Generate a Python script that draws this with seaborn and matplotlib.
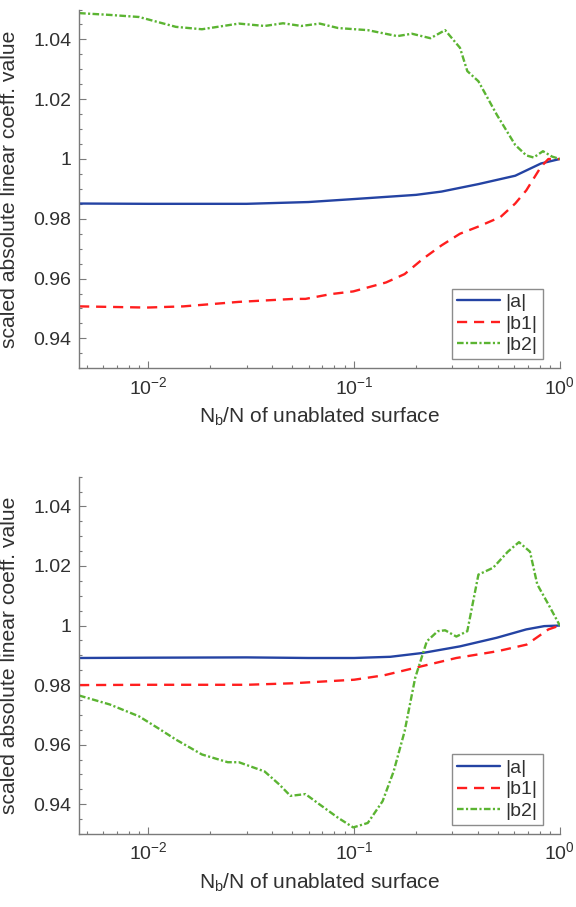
import numpy as np
import pandas as pd
import matplotlib
matplotlib.use("Agg")
import matplotlib.pyplot as plt
import seaborn as sns
from matplotlib.ticker import LogLocator, MultipleLocator, FixedLocator

# ---------------- data ----------------
# top panel
top_a_x = [0.0046, 0.01, 0.03, 0.06, 0.1, 0.2, 0.266, 0.402, 0.607, 0.81, 1.0]
top_a_y = [0.9851, 0.9850, 0.9850, 0.9856, 0.9866, 0.9880, 0.9891, 0.9916, 0.9944, 0.9985, 1.0]

top_b1_x = [0.0046, 0.0098, 0.0148, 0.0275, 0.051, 0.058, 0.077, 0.099, 0.143, 0.176,
            0.216, 0.266, 0.327, 0.402, 0.515, 0.607, 0.687, 0.81, 0.88, 1.0]
top_b1_y = [0.9507, 0.9503, 0.9507, 0.9522, 0.9532, 0.9532, 0.9548, 0.9557, 0.9587, 0.9615,
            0.9666, 0.9711, 0.9750, 0.9774, 0.9806, 0.9851, 0.9895, 0.9974, 1.0, 1.0]

top_b2_x = [0.0046, 0.00648, 0.009, 0.0136, 0.0182, 0.0275, 0.0367, 0.0451, 0.0554, 0.068,
            0.0837, 0.1165, 0.162, 0.191, 0.235, 0.277, 0.327, 0.355, 0.402, 0.494,
            0.607, 0.687, 0.746, 0.828, 0.917, 1.0]
top_b2_y = [1.0488, 1.0482, 1.0475, 1.0442, 1.0434, 1.0453, 1.0445, 1.0454, 1.0445, 1.0453,
            1.0438, 1.0431, 1.0411, 1.0419, 1.0404, 1.0431, 1.0372, 1.0294, 1.0260, 1.0148,
            1.0047, 1.0012, 1.0005, 1.0026, 1.0008, 1.0]

# bottom panel
bot_a_x = [0.0046, 0.01, 0.03, 0.06, 0.1, 0.15, 0.216, 0.327, 0.494, 0.687, 0.84, 1.0]
bot_a_y = [0.9891, 0.9892, 0.9893, 0.9891, 0.9891, 0.9895, 0.9908, 0.9930, 0.9959, 0.9987, 0.9998, 1.0]

bot_b1_x = [0.0046, 0.01, 0.03, 0.05, 0.1, 0.14, 0.198, 0.314, 0.5, 0.69, 0.88, 1.0]
bot_b1_y = [0.9800, 0.9801, 0.9801, 0.9806, 0.9818, 0.9833, 0.9858, 0.9891, 0.9914, 0.9936, 0.9987, 1.0]

bot_b2_x = [0.0046, 0.00648, 0.009, 0.0111, 0.0136, 0.0182, 0.0243, 0.0275, 0.0367, 0.0433,
            0.049, 0.058, 0.068, 0.0837, 0.099, 0.1165, 0.1375, 0.1556, 0.176, 0.198,
            0.2256, 0.255, 0.277, 0.314, 0.355, 0.402, 0.474, 0.559, 0.633, 0.716,
            0.777, 0.88, 1.0]
bot_b2_y = [0.9765, 0.9735, 0.9695, 0.9656, 0.9617, 0.9567, 0.9541, 0.9541, 0.9510, 0.9466,
            0.9428, 0.9434, 0.9399, 0.9354, 0.9322, 0.9337, 0.9410, 0.9510, 0.9645, 0.9824,
            0.9947, 0.9981, 0.9984, 0.9963, 0.9981, 1.0171, 1.0194, 1.0248, 1.0280, 1.0248,
            1.0138, 1.0071, 1.0]

labels = ["|a|", "|b1|", "|b2|"]
x_label = r"N$_\mathregular{b}$/N of unablated surface"
y_label = "scaled absolute linear coeff. value"

# ---------------- style ----------------
sns.set_style("white")
plt.rcParams["font.family"] = ["Liberation Sans", "DejaVu Sans"]
plt.rcParams["mathtext.fontset"] = "custom"
plt.rcParams["mathtext.rm"] = "Liberation Sans"
plt.rcParams["mathtext.it"] = "Liberation Sans"
plt.rcParams["mathtext.bf"] = "Liberation Sans"
plt.rcParams["axes.unicode_minus"] = False

colors = ["#2443a3", "#ff1e1e", "#5bb432"]
styles = ["-", (0, (4.3, 2.9)), (0, (2.8, 1.0, 0.9, 1.0))]

fig = plt.figure(figsize=(5.76, 9.07), dpi=100)
ax_top = fig.add_axes([0.1373, 0.594, 0.8346, 0.3955])
ax_bot = fig.add_axes([0.1373, 0.0805, 0.8346, 0.394])

panels = [
    (ax_top, [(top_a_x, top_a_y), (top_b1_x, top_b1_y), (top_b2_x, top_b2_y)]),
    (ax_bot, [(bot_a_x, bot_a_y), (bot_b1_x, bot_b1_y), (bot_b2_x, bot_b2_y)]),
]

spine_col = "#7a7a7a"
text_col = "#303030"

for ax, series in panels:
    for (xs, ys), lab, c, ls in zip(series, labels, colors, styles):
        df = pd.DataFrame({"x": xs, "y": ys})
        sns.lineplot(data=df, x="x", y="y", ax=ax, color=c, linestyle=ls,
                     linewidth=1.7, label=lab, sort=False, estimator=None)
    ax.set_xscale("log")
    ax.set_xlim(0.0046, 1.0)
    ax.set_ylim(0.93, 1.05)
    ax.yaxis.set_major_locator(FixedLocator([0.94, 0.96, 0.98, 1.0, 1.02, 1.04]))
    ax.set_yticklabels(["0.94", "0.96", "0.98", "1", "1.02", "1.04"])
    ax.yaxis.set_minor_locator(MultipleLocator(0.005))
    ax.xaxis.set_major_locator(LogLocator(base=10, numticks=10))
    ax.xaxis.set_minor_locator(LogLocator(base=10, subs=np.arange(2, 10), numticks=20))
    for s in ["top", "right"]:
        ax.spines[s].set_visible(False)
    for s in ["left", "bottom"]:
        ax.spines[s].set_color(spine_col)
        ax.spines[s].set_linewidth(1.0)
    ax.tick_params(which="both", left=True, bottom=True, right=False, top=False)
    ax.tick_params(which="major", direction="in", length=5, width=0.8,
                   color=spine_col, labelsize=14, labelcolor=text_col, pad=5.5)
    ax.tick_params(which="minor", direction="in", length=2.5, width=0.8, color=spine_col)
    ax.set_xlabel(x_label, fontsize=15, color=text_col, labelpad=6)
    ax.set_ylabel(y_label, fontsize=15.2, color=text_col)
    ax.yaxis.set_label_coords(-0.125, 0.5)
    leg = ax.legend(loc="lower right", bbox_to_anchor=(0.964, 0.026), fontsize=14,
                    frameon=True, fancybox=False, handlelength=2.2, handletextpad=0.3,
                    borderpad=0.25, labelspacing=0.2, borderaxespad=0.0)
    leg.get_frame().set_edgecolor("#707070")
    leg.get_frame().set_linewidth(1.0)
    for t in leg.get_texts():
        t.set_color(text_col)

fig.savefig("out.png", dpi=100, facecolor="white")
